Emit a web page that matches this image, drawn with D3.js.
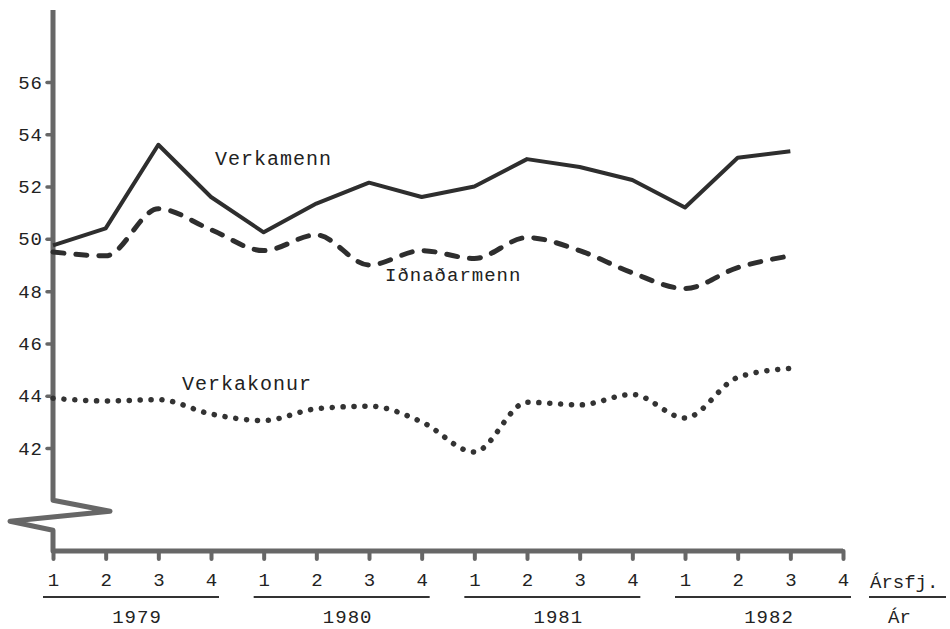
<!DOCTYPE html>
<html>
<head>
<meta charset="utf-8">
<script src="https://cdn.jsdelivr.net/npm/d3@7"></script>
<style>
  body { margin: 0; background: #fff; }
  text { font-family: "Liberation Mono", "DejaVu Sans Mono", monospace; fill: #222; }
</style>
</head>
<body>
<div id="chart"></div>
<script>
// quarters 1979 Q1 .. 1982 Q4
var quarters = ["1","2","3","4","1","2","3","4","1","2","3","4","1","2","3","4"];
var years = ["1979", "1980", "1981", "1982"];
var yTicks = [42, 44, 46, 48, 50, 52, 54, 56];

// index values (last quarter of 1982 missing)
var verkamenn = [49.75, 50.4, 53.6, 51.6, 50.25, 51.35, 52.15, 51.6, 52.0, 53.05, 52.75, 52.25, 51.2, 53.1, 53.35];
var idnadarmenn = [49.5, 49.35, 51.15, 50.35, 49.55, 50.15, 49.0, 49.55, 49.25, 50.05, 49.55, 48.7, 48.1, 48.9, 49.35];
var verkakonur = [43.9, 43.8, 43.85, 43.3, 43.05, 43.5, 43.6, 43.0, 41.85, 43.75, 43.65, 44.05, 43.15, 44.7, 45.05];

var svgWidth = 950;
var svgHeight = 629;

var svg = d3.select("#chart")
  .append("svg")
  .attr("width", svgWidth)
  .attr("height", svgHeight);

var x = d3.scaleLinear()
  .domain([0, quarters.length - 1])
  .range([53, 843]);

var y = d3.scaleLinear()
  .domain([42, 56])
  .range([448, 82]);

var axisY = 551;
var axisColor = "#676767";

// vertical axis with the broken (zigzag) part near the bottom
var x0 = x(0);
var yBreak = y(40);
var axisPath = d3.path();
axisPath.moveTo(x0, y(58.75));
axisPath.lineTo(x0, yBreak);
axisPath.lineTo(x0 + 57, yBreak + 11);
axisPath.lineTo(x0 - 43, yBreak + 21);
axisPath.lineTo(x0, yBreak + 30);
axisPath.lineTo(x0, axisY);
axisPath.lineTo(x(15), axisY);

svg.append("path")
  .attr("d", axisPath.toString())
  .attr("fill", "none")
  .attr("stroke", axisColor)
  .attr("stroke-width", 5)
  .attr("stroke-linejoin", "round");

// y axis ticks + labels
var leftAxis = d3.axisLeft(y)
  .tickValues(yTicks)
  .tickSize(6)
  .tickPadding(4);

var gy = svg.append("g")
  .attr("transform", `translate(${x0}, 0)`)
  .call(leftAxis);
gy.select(".domain").remove();
gy.selectAll(".tick line")
  .attr("stroke", axisColor)
  .attr("stroke-width", 3.5)
  .attr("stroke-linecap", "round");
gy.selectAll(".tick text")
  .attr("font-family", "Liberation Mono")
  .attr("font-size", 19)
  .attr("letter-spacing", 1)
  .attr("fill", "#222");

// x axis ticks + quarter labels
var bottomAxis = d3.axisBottom(x)
  .tickValues(d3.range(quarters.length))
  .tickSize(8)
  .tickPadding(14)
  .tickFormat(i => quarters[i]);

var gx = svg.append("g")
  .attr("transform", `translate(0, ${axisY})`)
  .call(bottomAxis);
gx.select(".domain").remove();
gx.selectAll(".tick line")
  .attr("stroke", axisColor)
  .attr("stroke-width", 4)
  .attr("stroke-linecap", "round");
gx.selectAll(".tick text")
  .attr("font-family", "Liberation Mono")
  .attr("font-size", 19)
  .attr("fill", "#222");

// year underlines and labels
years.forEach(function(yr, k) {
  var a = x(k * 4), b = x(k * 4 + 3);
  svg.append("line")
    .attr("x1", a - 10).attr("x2", b + 8)
    .attr("y1", 597).attr("y2", 597)
    .attr("stroke", "#333")
    .attr("stroke-width", 2);
  svg.append("text")
    .attr("x", (a + b) / 2 + 5)
    .attr("y", 623)
    .attr("text-anchor", "middle")
    .attr("font-size", 19)
    .attr("letter-spacing", 1)
    .text(yr);
});

// axis captions on the right
svg.append("text")
  .attr("x", 870).attr("y", 588)
  .attr("font-size", 19)
  .text("Ársfj.");
svg.append("line")
  .attr("x1", 869).attr("x2", 946)
  .attr("y1", 597).attr("y2", 597)
  .attr("stroke", "#333").attr("stroke-width", 2);
svg.append("text")
  .attr("x", 888).attr("y", 623)
  .attr("font-size", 19)
  .text("Ár");

// series
var lineLin = d3.line()
  .x((d, i) => x(i))
  .y(d => y(d));

var lineSmooth = d3.line()
  .x((d, i) => x(i))
  .y(d => y(d))
  .curve(d3.curveMonotoneX);

svg.append("path")
  .datum(verkamenn)
  .attr("d", lineLin)
  .attr("fill", "none")
  .attr("stroke", "#2e2e2e")
  .attr("stroke-width", 4)
  .attr("stroke-linejoin", "round");

svg.append("path")
  .datum(idnadarmenn)
  .attr("d", lineSmooth)
  .attr("fill", "none")
  .attr("stroke", "#2e2e2e")
  .attr("stroke-width", 5)
  .attr("stroke-linecap", "round")
  .attr("stroke-dasharray", "11 12");

svg.append("path")
  .datum(verkakonur)
  .attr("d", lineSmooth)
  .attr("fill", "none")
  .attr("stroke", "#333")
  .attr("stroke-width", 5.5)
  .attr("stroke-linecap", "round")
  .attr("stroke-dasharray", "0.1 10.8");

// series labels
svg.append("text")
  .attr("x", 215).attr("y", 165)
  .attr("font-size", 20)
  .attr("letter-spacing", 1)
  .text("Verkamenn");
svg.append("text")
  .attr("x", 385).attr("y", 281)
  .attr("font-size", 19)
  .attr("letter-spacing", 1)
  .text("Iðnaðarmenn");
svg.append("text")
  .attr("x", 182).attr("y", 390)
  .attr("font-size", 20)
  .attr("letter-spacing", 1)
  .text("Verkakonur");
</script>
</body>
</html>
